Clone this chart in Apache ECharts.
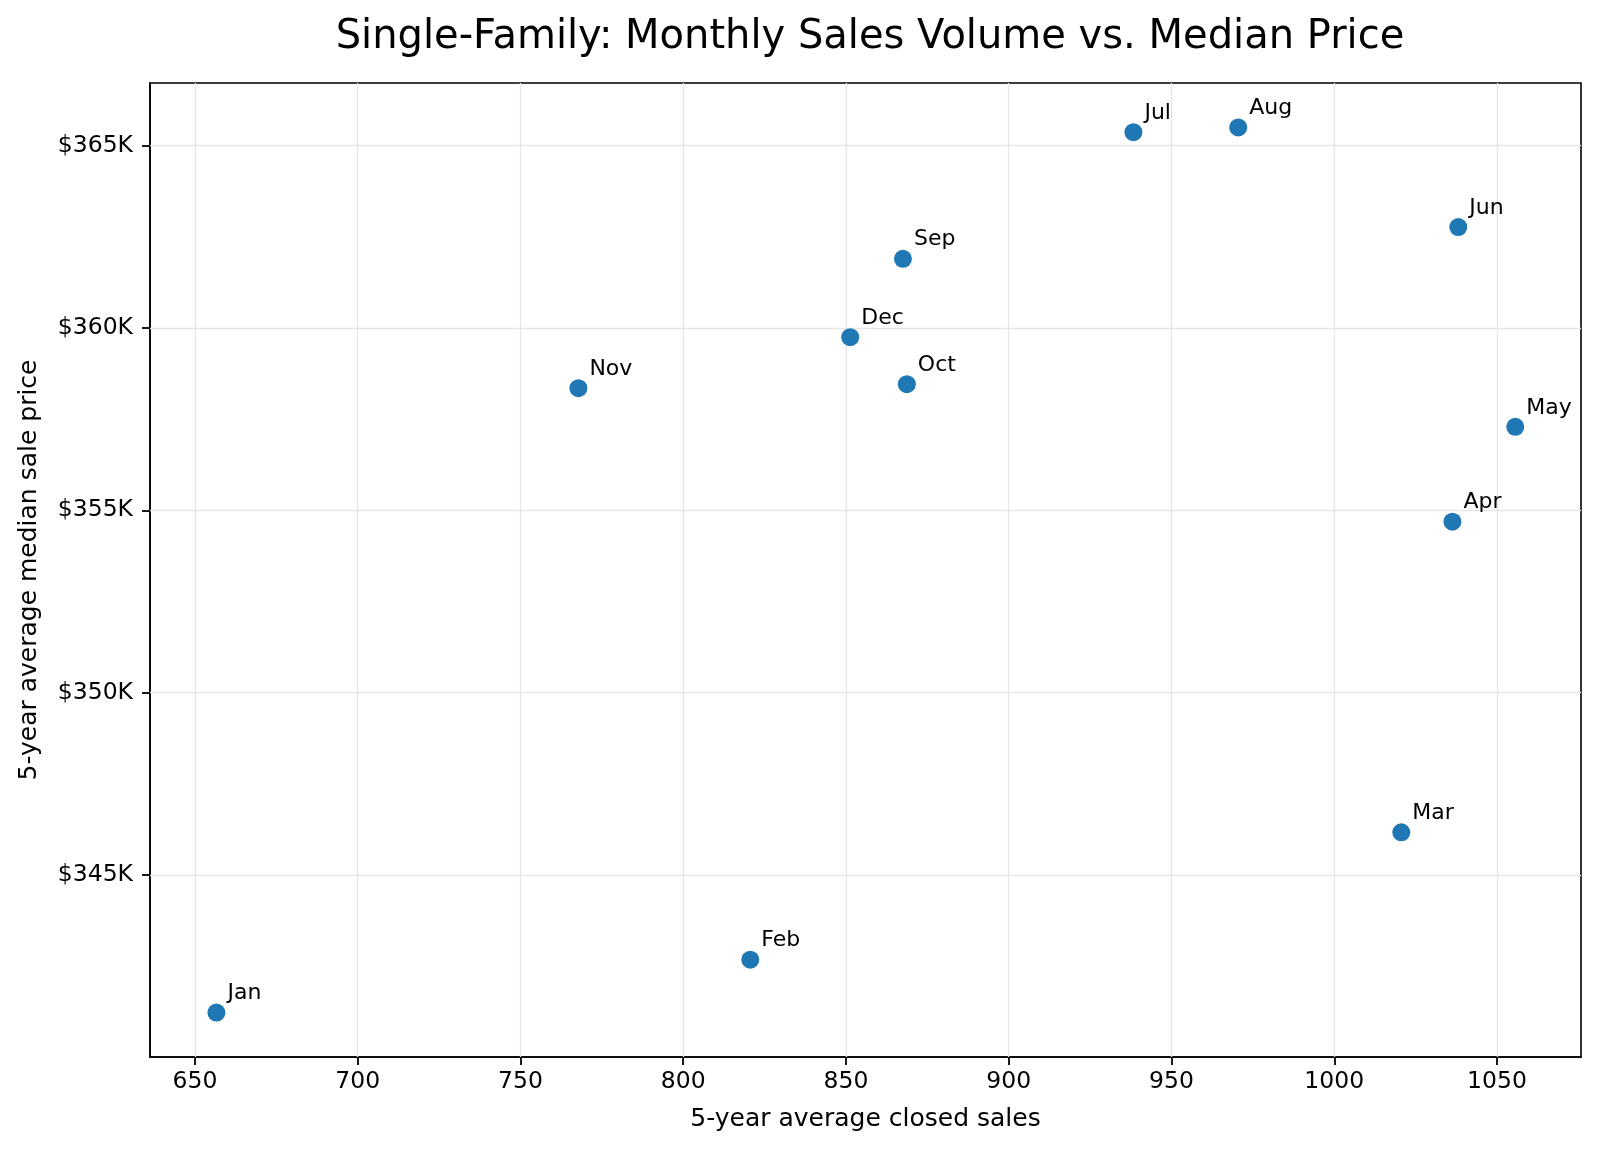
<!DOCTYPE html>
<html>
<head>
<meta charset="utf-8">
<script src="https://cdn.jsdelivr.net/npm/echarts@6/dist/echarts.min.js"></script>
<style>
html,body{margin:0;padding:0;background:#fff;}
#chart{width:1599px;height:1151px;}
</style>
</head>
<body>
<div id="chart"></div>
<script>
const months = ['Jan','Feb','Mar','Apr','May','Jun','Jul','Aug','Sep','Oct','Nov','Dec'];
const closedSales = [656.6, 820.6, 1020.6, 1036.3, 1055.6, 1038.1, 938.3, 970.5, 867.5, 868.7, 767.8, 851.3];
const medianPrice = [341230, 342680, 346170, 354690, 357290, 362770, 365370, 365500, 361900, 358460, 358350, 359750];
const xTicks = [650, 700, 750, 800, 850, 900, 950, 1000, 1050];
const yTicks = [345000, 350000, 355000, 360000, 365000];

const FONT = 'DejaVu Sans';
const chart = echarts.init(document.getElementById('chart'), null, {renderer: 'canvas'});

const points = months.map((m, i) => ({name: m, value: [closedSales[i], medianPrice[i]]}));
const gridLineStyle = {color: '#e6e6e6', width: 1.3, type: 'solid'};
const gridMarks = xTicks.map(v => ({xAxis: v})).concat(yTicks.map(v => ({yAxis: v})));

chart.setOption({
  animation: false,
  backgroundColor: '#ffffff',
  title: {
    text: 'Single-Family: Monthly Sales Volume vs. Median Price',
    left: 865,
    top: 13,
    textAlign: 'center',
    textStyle: {fontFamily: FONT, fontSize: 40, fontWeight: 'normal', color: '#000'}
  },
  grid: {
    left: 150, right: 18, top: 83, bottom: 94,
    show: true, borderColor: '#000', borderWidth: 1.6, backgroundColor: 'transparent'
  },
  xAxis: {
    type: 'value',
    min: 636.2, max: 1075.8,
    name: '5-year average closed sales',
    nameLocation: 'middle',
    nameGap: 50,
    nameTextStyle: {fontFamily: FONT, fontSize: 25, color: '#000'},
    axisLine: {show: true, onZero: false, lineStyle: {color: '#000', width: 1.6}},
    axisTick: {show: true, length: 8, lineStyle: {color: '#000', width: 1.8}, customValues: xTicks},
    axisLabel: {fontFamily: FONT, fontSize: 23.5, color: '#000', margin: 13, customValues: xTicks,
      formatter: v => String(v)},
    splitLine: {show: false}
  },
  yAxis: {
    type: 'value',
    min: 340010, max: 366720,
    name: '5-year average median sale price',
    nameLocation: 'middle',
    nameGap: 108,
    nameTextStyle: {fontFamily: FONT, fontSize: 25, color: '#000'},
    axisLine: {show: true, onZero: false, lineStyle: {color: '#000', width: 1.6}},
    axisTick: {show: true, length: 8, lineStyle: {color: '#000', width: 1.8}, customValues: yTicks},
    axisLabel: {fontFamily: FONT, fontSize: 23.5, color: '#000', margin: 17, customValues: yTicks,
      formatter: v => '$' + Math.round(v / 1000) + 'K'},
    splitLine: {show: false}
  },
  series: [
    {
      type: 'scatter',
      z: 0,
      zlevel: 0,
      data: [],
      silent: true,
      markLine: {
        silent: true,
        symbol: ['none', 'none'],
        label: {show: false},
        lineStyle: gridLineStyle,
        animation: false,
        data: gridMarks
      }
    },
    {
      type: 'scatter',
      z: 3,
      zlevel: 1,
      data: points,
      symbol: 'circle',
      symbolSize: 18,
      itemStyle: {color: '#1f77b4', opacity: 1},
      label: {
        show: true,
        formatter: p => p.name,
        position: [20, 1],
        align: 'left',
        verticalAlign: 'bottom',
        fontFamily: FONT,
        fontSize: 22,
        lineHeight: 22,
        color: '#000',
        textBorderWidth: 0,
        textBorderColor: 'transparent'
      }
    }
  ]
});
</script>
</body>
</html>
